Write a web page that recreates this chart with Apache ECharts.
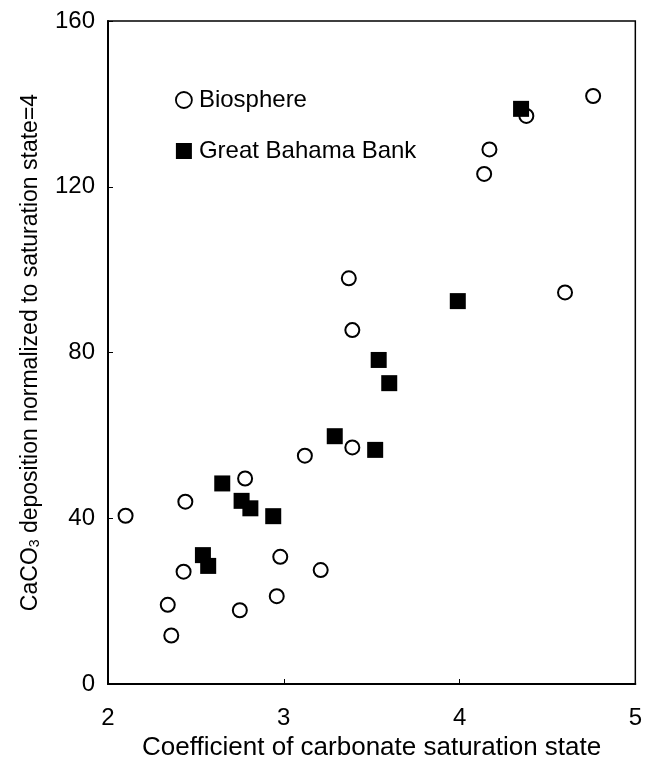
<!DOCTYPE html>
<html>
<head>
<meta charset="utf-8">
<script src="https://cdn.jsdelivr.net/npm/echarts@6/dist/echarts.min.js"></script>
<style>
  html, body { margin: 0; padding: 0; background: #fff; }
  #main { width: 645px; height: 774px; }
</style>
</head>
<body>
<div id="main"></div>
<script>
// values
var bioX = [2.10, 2.44, 2.78, 2.43, 2.98, 2.34, 2.75, 2.96, 2.36, 3.12, 3.39, 3.21, 3.37, 3.39, 4.76, 4.38, 4.17, 4.14, 4.60];
var bioY = [40.6, 44.0, 49.6, 27.1, 30.7, 19.1, 17.8, 21.2, 11.7, 55.1, 57.1, 27.5, 97.9, 85.4, 141.9, 137.1, 129.0, 123.1, 94.5];

var gbbX = [2.65, 2.76, 2.81, 2.94, 2.54, 2.57, 3.52, 3.29, 3.54, 3.60, 3.99, 4.35];
var gbbY = [48.4, 44.2, 42.4, 40.5, 31.1, 28.5, 56.5, 59.8, 78.2, 72.6, 92.4, 138.8];

var xTicks = [2, 3, 4, 5];
var yTicks = [0, 40, 80, 120, 160];

function pairs(xs, ys) {
  var out = [];
  for (var i = 0; i < xs.length; i++) out.push([xs[i], ys[i]]);
  return out;
}

var font = 'Liberation Sans';

var option = {
  animation: false,
  backgroundColor: '#fff',
  grid: {
    left: 108, top: 21, right: 8, bottom: 90,
    show: true,
    borderColor: '#000',
    borderWidth: 1.5
  },
  legend: {
    orient: 'vertical',
    left: 170,
    top: 83,
    itemGap: 27,
    itemWidth: 16,
    itemHeight: 16,
    textStyle: { fontFamily: font, fontSize: 24, color: '#000', padding: [0, 0, 0, 2] },
    data: [
      { name: 'Biosphere', icon: 'circle', itemStyle: { color: '#fff', borderColor: '#000', borderWidth: 1.8 } },
      { name: 'Great Bahama Bank', icon: 'rect', itemStyle: { color: '#000' } }
    ]
  },
  xAxis: {
    type: 'value',
    min: xTicks[0],
    max: xTicks[xTicks.length - 1],
    interval: 1,
    name: 'Coefficient of carbonate saturation state',
    nameLocation: 'middle',
    nameGap: 51,
    nameTextStyle: { fontFamily: font, fontSize: 26, color: '#000' },
    axisLine: { show: true, lineStyle: { color: '#000', width: 2 } },
    axisTick: { show: true, inside: true, length: 5, lineStyle: { color: '#000', width: 1 } },
    axisLabel: { fontFamily: font, fontSize: 24, color: '#000', margin: 22 },
    splitLine: { show: false }
  },
  yAxis: {
    type: 'value',
    min: yTicks[0],
    max: yTicks[yTicks.length - 1],
    interval: 40,
    name: '{a|CaCO}{s|3}{a| deposition normalized to saturation state=4}',
    nameLocation: 'middle',
    nameGap: 66,
    nameTextStyle: {
      rich: {
        a: { fontFamily: font, fontSize: 23, color: '#000' },
        s: { fontFamily: font, fontSize: 14, color: '#000', verticalAlign: 'bottom', padding: [8, 0, 0, 0] }
      }
    },
    axisLine: { show: true, lineStyle: { color: '#000', width: 2 } },
    axisTick: { show: true, inside: true, length: 5, lineStyle: { color: '#000', width: 1 } },
    axisLabel: { fontFamily: font, fontSize: 24, color: '#000', margin: 13 },
    splitLine: { show: false }
  },
  series: [
    {
      name: 'Biosphere',
      type: 'scatter',
      symbol: 'circle',
      symbolSize: 14,
      itemStyle: { color: '#fff', borderColor: '#000', borderWidth: 2, opacity: 1 },
      data: pairs(bioX, bioY),
      z: 2
    },
    {
      name: 'Great Bahama Bank',
      type: 'scatter',
      symbol: 'rect',
      symbolSize: 16,
      itemStyle: { color: '#000', opacity: 1 },
      data: pairs(gbbX, gbbY),
      z: 3
    }
  ]
};

var chart = echarts.init(document.getElementById('main'), null, { renderer: 'canvas' });
chart.setOption(option);
</script>
</body>
</html>
